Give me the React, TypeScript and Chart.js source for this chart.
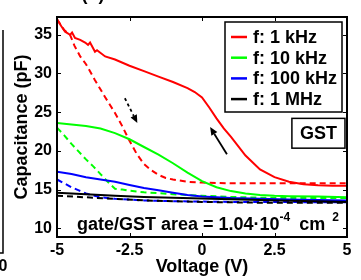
import React, { useEffect, useRef } from "react";
import { Chart, registerables } from "chart.js";
Chart.register(...registerables);

const FONT = '"Liberation Sans", Arial, Helvetica, sans-serif';

// ---- axes ----
const X_TICKS = [-5, -2.5, 0, 2.5, 5];
const X_TICK_LABELS = ["-5", "-2.5", "0", "2.5", "5"];
const Y_TICKS = [10, 15, 20, 25, 30, 35];
const Y_TICK_LABELS = ["10", "15", "20", "25", "30", "35"];
const X_LIMITS = [-5, 5];
const Y_LIMITS = [8.87, 37.3];

// ---- series (voltage in V, capacitance in pF) ----
const LABELS = ["f: 1 kHz", "f: 10 kHz", "f: 100 kHz", "f: 1 MHz"];
const COLORS = ["#ff0000", "#00ff00", "#0000ff", "#000000"];

const V_1K_UP = [-5, -4.85, -4.72, -4.55, -4.48, -4.38, -4.2, -4.03, -3.93, -3.86, -3.69, -3.62, -3.34, -3.0, -2.5, -2.0, -1.5, -1.0, -0.5, -0.25, 0, 0.25, 0.5, 0.75, 1.0, 1.5, 2.0, 2.5, 3.0, 3.5, 4.0, 4.5, 5.0];
const C_1K_UP = [37.0, 36.1, 35.4, 35.0, 35.3, 34.6, 34.35, 34.0, 33.7, 34.0, 32.8, 33.0, 32.2, 31.8, 31.0, 30.3, 29.6, 28.9, 28.1, 27.6, 26.9, 25.6, 24.2, 22.9, 21.8, 19.4, 17.6, 16.6, 16.0, 15.7, 15.55, 15.5, 15.5];
const V_1K_DOWN = [-5, -4.75, -4.55, -4.4, -4.2, -4.0, -3.7, -3.35, -3.0, -2.75, -2.5, -2.25, -2.0, -1.75, -1.5, -1.25, -1.0, -0.5, 0, 1, 2, 3, 4, 5];
const C_1K_DOWN = [37.0, 35.6, 35.0, 33.6, 32.2, 31.2, 29.2, 27.0, 24.9, 23.2, 21.3, 19.6, 18.3, 17.5, 16.9, 16.5, 16.3, 16.0, 15.9, 15.8, 15.8, 15.8, 15.8, 15.8];

const V_10K_UP = [-5, -4.5, -4, -3.5, -3, -2.5, -2, -1.5, -1, -0.5, 0, 0.5, 1, 1.5, 2, 2.5, 3, 4, 5];
const C_10K_UP = [23.6, 23.4, 23.2, 22.9, 22.3, 21.5, 20.5, 19.5, 18.4, 17.2, 16.1, 15.3, 14.8, 14.5, 14.3, 14.2, 14.15, 14.1, 14.0];
const V_10K_DOWN = [-5, -4.75, -4.5, -4.25, -4, -3.75, -3.5, -3.25, -3, -2.75, -2.5, -2, -1, 0, 1, 2, 3, 4, 5];
const C_10K_DOWN = [23.0, 22.0, 20.9, 19.9, 18.9, 18.0, 17.0, 16.0, 15.1, 15.0, 14.85, 14.65, 14.4, 14.2, 14.05, 13.95, 13.9, 13.9, 13.9];

const V_100K_UP = [-5, -4.5, -4, -3.5, -3, -2.5, -2, -1.5, -1, -0.5, 0, 1, 2, 3, 4, 5];
const C_100K_UP = [17.3, 17.0, 16.6, 16.3, 16.0, 15.6, 15.2, 14.9, 14.6, 14.3, 14.1, 13.9, 13.8, 13.7, 13.65, 13.6];
const V_100K_DOWN = [-5, -4.75, -4.5, -4.25, -4, -3.5, -3, -2, -1, 0, 1, 2, 3, 4, 5];
const C_100K_DOWN = [16.3, 15.8, 15.3, 14.9, 14.5, 14.0, 13.8, 13.6, 13.5, 13.45, 13.4, 13.4, 13.4, 13.35, 13.35];

const V_1M_UP = [-5, -4, -3, -2, -1, 0, 1, 2, 3, 4, 5];
const C_1M_UP = [14.6, 14.4, 14.2, 14.05, 13.95, 13.85, 13.75, 13.65, 13.55, 13.5, 13.4];
const V_1M_DOWN = [-5, -4, -3, -2, -1, 0, 1, 2, 3, 4, 5];
const C_1M_DOWN = [14.2, 14.0, 13.8, 13.6, 13.5, 13.4, 13.35, 13.3, 13.3, 13.3, 13.3];

// ---- annotations (data coordinates) ----
const ARROW_SOLID = { from: [0.86, 19.57], to: [0.28, 23.07] };
const ARROW_DASHED = { from: [-2.66, 26.8], to: [-2.23, 23.6] };
const GST_BOX = { x: [3.1, 4.93], y: [20.35, 24.2], text: "GST" };
const AREA_TEXT = { x: -4.31, main: "gate/GST area = 1.04\u00B710", exp1: "-4", unit: "cm", exp2: "2" };

const zip = (xs: number[], ys: number[]) => xs.map((x, i) => ({ x, y: ys[i] }));

function arrow(ctx: CanvasRenderingContext2D, x1: number, y1: number, x2: number, y2: number, dash: number[]) {
  const ang = Math.atan2(y2 - y1, x2 - x1);
  const L = 8, W = 3.5;
  const c = Math.cos(ang), s = Math.sin(ang);
  const bx = x2 - L * c, by = y2 - L * s;
  ctx.save();
  ctx.strokeStyle = "#000";
  ctx.fillStyle = "#000";
  ctx.lineWidth = 1.8;
  ctx.setLineDash(dash);
  ctx.beginPath();
  ctx.moveTo(x1, y1);
  ctx.lineTo(bx, by);
  ctx.stroke();
  ctx.setLineDash([]);
  ctx.beginPath();
  ctx.moveTo(x2, y2);
  ctx.lineTo(bx + W * s, by - W * c);
  ctx.lineTo(bx - W * s, by + W * c);
  ctx.closePath();
  ctx.fill();
  ctx.restore();
}

const framePlugin = {
  id: "matlabFrame",
  beforeDraw(chart: any) {
    const { ctx, width, height } = chart;
    ctx.save();
    ctx.fillStyle = "#fff";
    ctx.fillRect(0, 0, width, height);
    ctx.restore();
  },
  afterDraw(chart: any) {
    const { ctx, chartArea: a } = chart;
    const xs = chart.scales.x, ys = chart.scales.y;
    ctx.save();
    // neighbouring panel fragments
    ctx.strokeStyle = "#000";
    ctx.lineWidth = 1.5;
    ctx.beginPath();
    ctx.moveTo(3, 30);
    ctx.lineTo(3, a.bottom + 16);
    ctx.lineTo(0, a.bottom + 16);
    ctx.stroke();
    ctx.fillStyle = "#000";
    ctx.font = `bold 16px ${FONT}`;
    ctx.textAlign = "center";
    ctx.textBaseline = "middle";
    ctx.fillText("0", 3, a.bottom + 30);
    ctx.font = `bold 18px ${FONT}`;
    ctx.textBaseline = "alphabetic";
    ctx.fillText("(b)", 93, 0);

    // box
    ctx.lineWidth = 2;
    ctx.strokeRect(a.left, a.top, a.right - a.left, a.bottom - a.top);
    // inward ticks
    ctx.lineWidth = 1;
    const tl = 4;
    ctx.beginPath();
    X_TICKS.forEach((v) => {
      const p = Math.round(xs.getPixelForValue(v)) + 0.5;
      if (p <= a.left + 1 || p >= a.right - 1) return;
      ctx.moveTo(p, a.bottom); ctx.lineTo(p, a.bottom - tl);
      ctx.moveTo(p, a.top); ctx.lineTo(p, a.top + tl);
    });
    Y_TICKS.forEach((v) => {
      const p = Math.round(ys.getPixelForValue(v)) + 0.5;
      ctx.moveTo(a.left, p); ctx.lineTo(a.left + tl, p);
      ctx.moveTo(a.right, p); ctx.lineTo(a.right - tl, p);
    });
    ctx.stroke();

    // legend
    const lx = a.right - 122, ly = a.top + 5, lw = 117, lh = 90;
    ctx.fillStyle = "#fff";
    ctx.fillRect(lx, ly, lw, lh);
    ctx.lineWidth = 1.5;
    ctx.strokeStyle = "#000";
    ctx.strokeRect(lx, ly, lw, lh);
    ctx.font = `bold 18px ${FONT}`;
    ctx.textAlign = "left";
    ctx.textBaseline = "middle";
    const items = chart.data.datasets.filter((d: any) => d.inLegend);
    items.forEach((d: any, i: number) => {
      const yy = ly + 15 + i * 20.7;
      ctx.strokeStyle = d.borderColor;
      ctx.lineWidth = 2.5;
      ctx.beginPath();
      ctx.moveTo(lx + 6, yy);
      ctx.lineTo(lx + 22, yy);
      ctx.stroke();
      ctx.fillStyle = "#000";
      ctx.fillText(d.label, lx + 28, yy + 1);
    });

    // GST box
    const gx1 = xs.getPixelForValue(GST_BOX.x[0]), gx2 = xs.getPixelForValue(GST_BOX.x[1]);
    const gy1 = ys.getPixelForValue(GST_BOX.y[1]), gy2 = ys.getPixelForValue(GST_BOX.y[0]);
    ctx.fillStyle = "#fff";
    ctx.fillRect(gx1, gy1, gx2 - gx1, gy2 - gy1);
    ctx.strokeStyle = "#000";
    ctx.lineWidth = 1.5;
    ctx.strokeRect(gx1, gy1, gx2 - gx1, gy2 - gy1);
    ctx.fillStyle = "#000";
    ctx.textAlign = "center";
    ctx.fillText(GST_BOX.text, (gx1 + gx2) / 2, (gy1 + gy2) / 2 + 1);

    // arrows
    arrow(ctx, xs.getPixelForValue(ARROW_SOLID.from[0]), ys.getPixelForValue(ARROW_SOLID.from[1]),
      xs.getPixelForValue(ARROW_SOLID.to[0]), ys.getPixelForValue(ARROW_SOLID.to[1]), []);
    arrow(ctx, xs.getPixelForValue(ARROW_DASHED.from[0]), ys.getPixelForValue(ARROW_DASHED.from[1]),
      xs.getPixelForValue(ARROW_DASHED.to[0]), ys.getPixelForValue(ARROW_DASHED.to[1]), [3, 3]);

    // area text
    ctx.textAlign = "left";
    ctx.textBaseline = "alphabetic";
    ctx.fillStyle = "#000";
    let tx = xs.getPixelForValue(AREA_TEXT.x);
    const ty = a.bottom - 7;
    ctx.font = `bold 18px ${FONT}`;
    ctx.fillText(AREA_TEXT.main, tx, ty);
    tx += ctx.measureText(AREA_TEXT.main).width;
    ctx.font = `bold 12px ${FONT}`;
    ctx.fillText(AREA_TEXT.exp1, tx, ty - 9);
    tx += ctx.measureText(AREA_TEXT.exp1).width + 9;
    ctx.font = `bold 18px ${FONT}`;
    ctx.fillText(AREA_TEXT.unit, tx, ty);
    tx += ctx.measureText(AREA_TEXT.unit).width + 7;
    ctx.font = `bold 12px ${FONT}`;
    ctx.fillText(AREA_TEXT.exp2, tx, ty - 9);
    ctx.restore();
  },
};

function App() {
  const ref = useRef<HTMLCanvasElement>(null);
  useEffect(() => {
    document.body.style.margin = "0";
    const mk = (label: string, color: string, xs: number[], ys: number[], dashed: boolean, order: number) => ({
      label,
      data: zip(xs, ys),
      borderColor: color,
      backgroundColor: color,
      borderWidth: 2,
      borderDash: dashed ? [6, 4] : [],
      pointRadius: 0,
      tension: 0,
      fill: false,
      order,
      inLegend: !dashed,
    });
    const datasets: any[] = [
      mk(LABELS[0], COLORS[0], V_1K_UP, C_1K_UP, false, 8),
      mk(LABELS[0], COLORS[0], V_1K_DOWN, C_1K_DOWN, true, 7),
      mk(LABELS[1], COLORS[1], V_10K_UP, C_10K_UP, false, 6),
      mk(LABELS[1], COLORS[1], V_10K_DOWN, C_10K_DOWN, true, 5),
      mk(LABELS[2], COLORS[2], V_100K_UP, C_100K_UP, false, 4),
      mk(LABELS[2], COLORS[2], V_100K_DOWN, C_100K_DOWN, true, 3),
      mk(LABELS[3], COLORS[3], V_1M_UP, C_1M_UP, false, 2),
      mk(LABELS[3], COLORS[3], V_1M_DOWN, C_1M_DOWN, true, 1),
    ];
    const chart = new Chart(ref.current!, {
      type: "line",
      data: { datasets },
      options: {
        responsive: false,
        animation: false,
        devicePixelRatio: 1,
        layout: { padding: { left: 0, top: 17, right: 14, bottom: 0 } },
        plugins: { legend: { display: false }, tooltip: { enabled: false } },
        scales: {
          x: {
            type: "linear",
            min: X_LIMITS[0],
            max: X_LIMITS[1],
            grid: { display: false, drawTicks: false },
            border: { display: false },
            afterBuildTicks: (s: any) => { s.ticks = X_TICKS.map((v) => ({ value: v })); },
            afterFit: (s: any) => { s.height = 43; },
            ticks: {
              color: "#000",
              font: { family: FONT, size: 16, weight: "bold" },
              padding: 4,
              maxRotation: 0,
              autoSkip: false,
              callback: (v: any) => X_TICK_LABELS[X_TICKS.indexOf(Number(v))] ?? "",
            },
            title: {
              display: true,
              text: "Voltage (V)",
              color: "#000",
              font: { family: FONT, size: 18, weight: "bold" },
              padding: { top: 0, bottom: 2 },
            },
          },
          y: {
            type: "linear",
            min: Y_LIMITS[0],
            max: Y_LIMITS[1],
            grid: { display: false, drawTicks: false },
            border: { display: false },
            afterBuildTicks: (s: any) => { s.ticks = Y_TICKS.map((v) => ({ value: v })); },
            afterFit: (s: any) => { s.width = 57; },
            ticks: {
              color: "#000",
              font: { family: FONT, size: 16, weight: "bold" },
              padding: 5,
              autoSkip: false,
              callback: (v: any) => Y_TICK_LABELS[Y_TICKS.indexOf(Number(v))] ?? "",
            },
            title: {
              display: true,
              text: "Capacitance (pF)",
              color: "#000",
              font: { family: FONT, size: 18, weight: "bold" },
              padding: { top: 11, bottom: 0 },
            },
          },
        },
      },
      plugins: [framePlugin],
    } as any);
    return () => chart.destroy();
  }, []);
  return (
    <canvas ref={ref} width={361} height={280} style={{ display: "block", width: 361, height: 280 }} />
  );
}

export default App;
